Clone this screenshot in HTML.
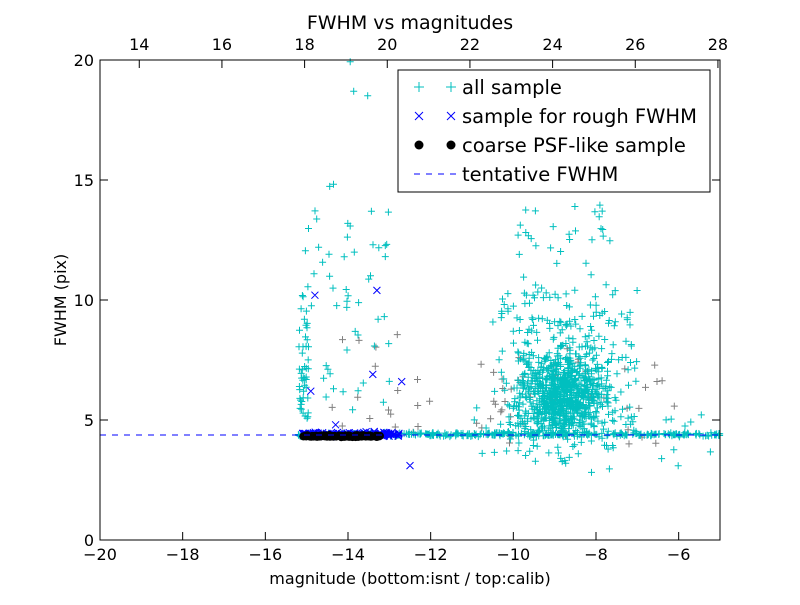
<!DOCTYPE html>
<html><head><meta charset="utf-8"><style>
html,body{margin:0;padding:0;background:#fff;}
svg text{font-family:"DejaVu Sans","Liberation Sans",sans-serif;fill:#000;}
</style></head><body>
<svg id="s" width="800" height="600" xmlns="http://www.w3.org/2000/svg">
<rect width="800" height="600" fill="#fff"/>
<g id="pts"></g>
<line x1="100" y1="435" x2="720" y2="435" stroke="#0000ff" stroke-width="1" stroke-dasharray="6,6"/>
<rect x="100" y="60" width="620" height="480" fill="none" stroke="#000" stroke-width="1"/>
<g id="ticks" stroke="#000" stroke-width="1"></g>
<g id="labels" font-size="16"></g>
<text x="410" y="29" font-size="19" text-anchor="middle">FWHM vs magnitudes</text>
<text x="410" y="584" font-size="16" text-anchor="middle">magnitude (bottom:isnt / top:calib)</text>
<text x="0" y="0" font-size="16" text-anchor="middle" transform="translate(66,300) rotate(-90)">FWHM (pix)</text>
<rect x="398" y="70" width="312" height="122" fill="#fff" stroke="#000" stroke-width="1"/>
<g stroke="#00bfbf" stroke-width="1"><path d="M414 87h10M419 82v10M446 87h10M451 82v10"/></g>
<g stroke="#0000ff" stroke-width="1"><path d="M415 112l8 8M423 112l-8 8M447 112l8 8M455 112l-8 8"/></g>
<circle cx="419" cy="145" r="4.5" fill="#000"/><circle cx="451" cy="145" r="4.5" fill="#000"/>
<line x1="414" y1="174" x2="456" y2="174" stroke="#0000ff" stroke-dasharray="6,6"/>
<g font-size="19.5"><text x="462" y="94">all sample</text><text x="462" y="123">sample for rough FWHM</text><text x="462" y="152">coarse PSF-like sample</text><text x="462" y="181">tentative FWHM</text></g>
</svg>
<script>
var seed=12345;function r(){seed=(seed*1103515245+12345)%2147483648;return seed/2147483648;}
function n(){return (r()+r()+r()+r()-2)*1.2;}
function X(m){return 100+(m+20)*620/15;}function Y(f){return 540-f*24;}
var P=[],G=[],B=[],K=[];
function add(a,m,f){if(f>0&&f<20.5&&m>-20&&m<-5)a.push([X(m),Y(f)]);}
var i,m;
for(i=0;i<800;i++){m=-8.8+n()*0.75;add(P,m,4.2+Math.abs(n())*1.4+r()*2);}
for(i=0;i<200;i++){m=-10.3+r()*3.3;add(P,m,3.5+r()*7);}
for(i=0;i<60;i++){m=-10.5+r()*3;add(P,m,7+r()*7);}
for(i=0;i<350;i++){m=-15.2+r()*10.2;add(P,m,4.4+n()*0.06);}
for(i=0;i<50;i++){m=-15.2+r()*0.25;add(P,m,5+Math.abs(n())*5);}
for(i=0;i<50;i++){m=-14.9+r()*1.9;add(P,m,5+r()*10);}
for(i=0;i<50;i++){m=-11+r()*5.8;add(P,m,2.7+r()*3);}
for(i=0;i<10;i++){m=-15+r()*11;add(P,m,15+r()*5);}
for(i=0;i<50;i++){m=-11+r()*5;add(G,m,4+r()*4);}
for(i=0;i<20;i++){m=-15+r()*3;add(G,m,4.3+r()*5);}
for(i=0;i<140;i++){m=-15.1+r()*2.4;add(B,m,4.4+n()*0.06);}
[[-14.9,6.2],[-14.8,10.2],[-13.3,10.4],[-13.4,6.9],[-12.7,6.6],[-12.5,3.1],[-14.3,4.8]].forEach(function(p){add(B,p[0],p[1]);});
for(i=0;i<120;i++){m=-15.1+r()*1.9;add(K,m,4.33+n()*0.03);}
var h='';
P.forEach(function(p){h+='M'+(p[0]-3.5).toFixed(1)+' '+p[1].toFixed(1)+'h7M'+p[0].toFixed(1)+' '+(p[1]-3.5).toFixed(1)+'v7';});
var g='';G.forEach(function(p){g+='M'+(p[0]-3.5).toFixed(1)+' '+p[1].toFixed(1)+'h7M'+p[0].toFixed(1)+' '+(p[1]-3.5).toFixed(1)+'v7';});
var b='';B.forEach(function(p){b+='M'+(p[0]-3.5).toFixed(1)+' '+(p[1]-3.5).toFixed(1)+'l7 7M'+(p[0]+3.5).toFixed(1)+' '+(p[1]-3.5).toFixed(1)+'l-7 7';});
var k='';K.forEach(function(p){k+='<circle cx="'+p[0].toFixed(1)+'" cy="'+p[1].toFixed(1)+'" r="4" fill="#000"/>';});
document.getElementById('pts').innerHTML='<path d="'+g+'" stroke="#808080" fill="none"/><path d="'+h+'" stroke="#00bfbf" fill="none"/><path d="'+b+'" stroke="#0000ff" fill="none"/>'+k;
var t='',l='';
for(var v=-20;v<=-6;v+=2){var x=X(v);t+='<line x1="'+x+'" y1="540" x2="'+x+'" y2="532"/>';l+='<text x="'+x+'" y="560" text-anchor="middle">\u2212'+(-v)+'</text>';}
for(var f=0;f<=20;f+=5){var y=Y(f);t+='<line x1="100" y1="'+y+'" x2="108" y2="'+y+'"/><line x1="720" y1="'+y+'" x2="712" y2="'+y+'"/>';l+='<text x="94" y="'+(y+6)+'" text-anchor="end">'+f+'</text>';}
for(var c=14;c<=28;c+=2){var x2=100+(c-13.05)*620/15;t+='<line x1="'+x2+'" y1="60" x2="'+x2+'" y2="68"/>';l+='<text x="'+x2+'" y="50" text-anchor="middle">'+c+'</text>';}
document.getElementById('ticks').innerHTML=t;document.getElementById('labels').innerHTML=l;
</script>
</body></html>
